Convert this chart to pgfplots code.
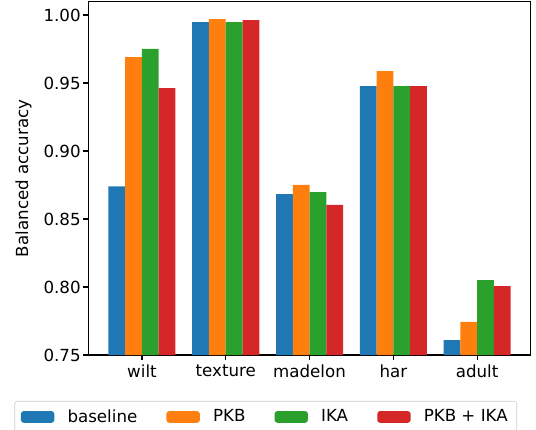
\documentclass[border=0pt]{standalone}
\usepackage{pgfplots}
\pgfplotsset{compat=1.18}
\usepackage{fontspec}
\setmainfont{DejaVu Sans}
\definecolor{tabblue}{HTML}{1F77B4}
\definecolor{taborange}{HTML}{FF7F0E}
\definecolor{tabgreen}{HTML}{2CA02C}
\definecolor{tabred}{HTML}{D62728}
\begin{document}
\begin{tikzpicture}[font=\fontsize{12}{14.4}\selectfont]
\begin{axis}[
  name=ax,
  scale only axis,
  width=318.5pt, height=254.5pt,
  xmin=-0.64, xmax=4.64,
  ymin=0.75, ymax=1.0099,
  xtick={0,1,2,3,4},
  xticklabels={wilt,texture,madelon,har,adult},
  ytick={0.75,0.80,0.85,0.90,0.95,1.00},
  yticklabel style={xshift=1.5pt,/pgf/number format/.cd,fixed,fixed zerofill,precision=2,assume math mode=true},
  /pgf/number format/assume math mode=true,
  xtick pos=left, ytick pos=left,
  tick align=outside,
  major tick length=3.5pt,
  tick style={black, line width=0.8pt},
  axis line style={line width=0.8pt},
  ylabel={Balanced accuracy},
  ylabel style={at={(axis description cs:-0.136,0.5)}, anchor=base},
  legend columns=4,
  legend style={at={(axis description cs:0.401,-0.130)}, anchor=north,
    draw=black!20, rounded corners=2pt, inner xsep=4.5pt, inner ysep=4pt,
    /tikz/every odd column/.append style={column sep=7.5pt},
    /tikz/every even column/.append style={column sep=19pt}},
  legend image code/.code={\fill[#1] (0pt,-4.2pt) rectangle (24pt,4.2pt);},
]
\addplot[ybar, bar width=0.2, bar shift=-0.3, fill=tabblue, draw=none]
  coordinates {(0,0.8740) (1,0.9948) (2,0.8683) (3,0.9477) (4,0.7610)};
\addlegendentry{baseline}
\addplot[ybar, bar width=0.2, bar shift=-0.1, fill=taborange, draw=none]
  coordinates {(0,0.9690) (1,0.9970) (2,0.8750) (3,0.9587) (4,0.7743)};
\addlegendentry{PKB}
\addplot[ybar, bar width=0.2, bar shift=0.1, fill=tabgreen, draw=none]
  coordinates {(0,0.9750) (1,0.9948) (2,0.8698) (3,0.9477) (4,0.8051)};
\addlegendentry{IKA}
\addplot[ybar, bar width=0.2, bar shift=0.3, fill=tabred, draw=none]
  coordinates {(0,0.9462) (1,0.9963) (2,0.8603) (3,0.9477) (4,0.8007)};
\addlegendentry{PKB + IKA}
\end{axis}
\pgfresetboundingbox
\path[use as bounding box] ([xshift=-63.6pt,yshift=-53.3pt]ax.south west) rectangle ([xshift=3.8pt,yshift=1.1pt]ax.north east);
\end{tikzpicture}
\end{document}
